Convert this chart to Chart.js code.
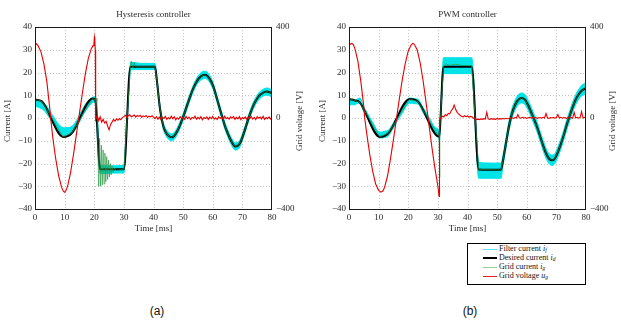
<!DOCTYPE html>
<html>
<head>
<meta charset="utf-8">
<script src="https://cdn.jsdelivr.net/npm/chart.js@4"></script>
<style>
  body { margin: 0; background: #fff; width: 621px; height: 323px; overflow: hidden; position: relative; font-family: "Liberation Serif", "DejaVu Serif", serif; }
  canvas { position: absolute; top: 0; }
  #hyst { left: 0; }
  #pwm { left: 310px; }
  .legend { position: absolute; left: 467px; top: 243px; width: 117px; height: 40px; border: 1px solid #000; font-size: 8px; color: #111; opacity: 0.99; -webkit-font-smoothing: antialiased; }
  .row { position: absolute; left: 0; width: 117px; height: 9px; }
  .sw { position: absolute; left: 15px; width: 14px; top: 4px; }
  .txt { position: absolute; left: 31px; top: -1px; line-height: 10px; white-space: nowrap; }
  .txt sub { font-size: 5.5px; vertical-align: -1px; font-style: italic; }
  .cap { position: absolute; top: 304px; width: 30px; text-align: center; font: 12px "Liberation Sans", Arial, sans-serif; color: #111; opacity: 0.99; }
</style>
</head>
<body>
<canvas id="hyst" width="310" height="240"></canvas>
<canvas id="pwm" width="311" height="240"></canvas>

<div class="legend">
  <div class="row" style="top:1px"><div class="sw" style="border-top:1px solid rgb(90,230,235)"></div><div class="txt">Filter current <i>i</i><sub>f</sub></div></div>
  <div class="row" style="top:10px"><div class="sw" style="border-top:2px solid #000;top:3px"></div><div class="txt">Desired current <i>i</i><sub>d</sub></div></div>
  <div class="row" style="top:19px"><div class="sw" style="border-top:1px solid rgb(150,205,150)"></div><div class="txt">Grid current <i>i</i><sub>g</sub></div></div>
  <div class="row" style="top:28px"><div class="sw" style="border-top:1px solid rgb(225,30,30)"></div><div class="txt">Grid voltage <i>u</i><sub>g</sub></div></div>
</div>
<div class="cap" style="left:142px">(a)</div>
<div class="cap" style="left:455px">(b)</div>

<script>
// ---------- Axis ticks ----------
const timeTicks = [0, 10, 20, 30, 40, 50, 60, 70, 80];          // ms
const currentTicks = [-40, -30, -20, -10, 0, 10, 20, 30, 40];   // A
const voltageTicks = [-400, 0, 400];                            // V

// ---------- Hysteresis controller ----------
// Sinusoidal reference after the +22.5 A step (shared time base)
const hystSineT = [41.1, 42.2, 43.3, 44.4, 45.3, 46.1, 47, 47.8, 49, 50.1, 51.2, 52.4, 53.5, 54.7, 56, 57.4, 58.8, 60.2, 61.3, 62.4, 63.3, 64.1, 65, 65.8, 66.7, 67.6, 68.4, 69.3, 70.4, 71.5, 72.6, 73.8, 75, 76, 77.2, 78.3, 79.2, 80];
const hystSineI = [17, 4, -3.5, -6.8, -8, -8.5, -7.8, -6.3, -3, 0.8, 5, 9.5, 13.2, 16.3, 18.3, 19, 17.5, 13.8, 9, 4, 0, -3.5, -6.5, -9, -11.2, -12.5, -12.3, -10.8, -7, -2.5, 1.8, 5.8, 8.6, 10.2, 11.3, 11.6, 11.3, 10.8];

// Desired current i_d
const hystDesiredT = [0, 1, 2.3, 9.5, 12.3, 19.5, 20.3, 22, 30, 32.2, 40.5].concat(hystSineT);
const hystDesiredI = [8, 7.9, 7.4, -8.3, -6.8, 8.6, 8, -22.5, -22.5, 22.5, 22.5].concat(hystSineI);

// Grid current i_g (oscillation after the voltage collapse)
const hystGridT = [0, 1, 2.3, 9.5, 12.3, 19.5, 20.3, 20.6, 20.9, 21.2, 21.5, 21.8, 22.1, 22.4, 22.7, 23, 23.3, 23.6, 23.9, 24.2, 24.5, 24.8, 25.1, 25.4, 25.7, 26, 26.4, 26.8, 27.3, 30, 32.2, 32.5, 33, 33.5, 34, 40.5].concat(hystSineT);
const hystGridI = [8, 7.9, 7.4, -8.3, -6.8, 8.6, 8, 8.7, 7.5, -10, -30, -9, -30, -12, -29.5, -14, -29, -15.5, -28, -17, -27, -18.5, -26, -20, -25, -21, -24, -22, -23, -22.5, 22.5, 25, 22, 24.5, 22.5, 22.5].concat(hystSineI);

// Filter current i_f: ripple band (upper / lower edge)
const hystFilterT = [0, 1, 2, 3, 4, 5, 6, 7, 8, 9, 10, 11, 12, 13, 14, 15, 16, 17, 18, 19, 20, 20.5, 21.2, 22, 26, 30, 30.8, 31.5, 32.3, 36, 40.5].concat(hystSineT);
const hystFilterHi = [7.8, 7.6, 7.2, 6.6, 5.2, 3.2, 1, -1, -2.8, -4, -4.3, -4.2, -4, -3, -1, 1.3, 3.8, 6, 7.6, 8.8, 9.3, 8.5, -2, -20.8, -21, -20.8, -4, 10, 24.5, 24, 24,
  18.5, 5.5, -2, -5.3, -6.5, -7, -6.3, -4.8, -1.5, 2.3, 6.5, 11, 14.7, 17.8, 19.9, 20.6, 19.1, 15.3, 10.5, 5.5, 1.5, -2, -5, -7.5, -9.6, -10.9, -10.7, -9.3, -5.5, -1, 3.3, 7.3, 10.1, 11.7, 12.8, 13.2, 12.9, 12.4];
const hystFilterLo = [5, 4.8, 4.2, 3.4, 1.8, -0.3, -2.5, -4.5, -6.2, -7.4, -7.8, -7.8, -7.5, -6.3, -4.2, -1.8, 0.8, 3, 4.8, 6.3, 7, 6.5, -12, -24.5, -24.2, -24.2, -8, 6.5, 21.2, 21.3, 21.3,
  15.5, 2.5, -5, -8.3, -9.6, -10.1, -9.4, -7.8, -4.5, -0.7, 3.5, 8, 11.7, 14.8, 16.7, 17.4, 15.9, 12.3, 7.5, 2.5, -1.5, -5, -8, -10.5, -12.8, -14.1, -13.9, -12.3, -8.5, -4, 0.3, 4.3, 7.1, 8.7, 9.8, 10, 9.7, 9.2];

// Grid voltage u_g before the fault
const hystVoltT = [0, 0.5, 1, 2, 3, 4, 5, 5.3, 6, 7, 8, 9, 9.6, 10, 10.5, 11, 12, 13, 14, 15, 16, 17, 18, 19, 19.6, 19.9, 20.05, 20.2, 20.35, 20.45];
const hystVoltV = [322, 326, 318, 292, 238, 160, 40, 0, -85, -180, -255, -305, -323, -326, -318, -300, -240, -160, -70, 20, 110, 195, 262, 305, 318, 330, 355, 340, 300, 0];
// Residual grid voltage, sampled every 0.5 ms from 20.5 ms
const hystVoltNoiseStart = 20.5;
const hystVoltNoise = [
  -8, 10, -12, 5, -18, -6, -22, -15, -35, -52, -28, -18, -6, -14, -4, -10, -2, -7, 3,
  6, 12, 3, 10, 14, 5, 9, 13, 4, 11, 7, 12, 3, 9, 6, 11, 2, 8, 5, 10, 4,
  -3, 6, -5, 4, -7, 3, -2, 7, -6, 2, -4, 8, -3, 5, -8, 1, -5, 6, -2, 3,
  -6, 7, -3, 4, -7, 2, -1, 8, -5, 3, -4, 6, -8, 2, -2, 5, -6, 4, -3, 7,
  -5, 1, -7, 6, -2, 4, -6, 8, -3, 2, -5, 5, -1, 7, -6, 3, -4, 6, -7, 2,
  -3, 5, -6, 4, -2, 7, -5, 3, -7, 6, -1, 4, -4, 8, -6, 2, -3, 5, -5, 3
];

// ---------- PWM controller ----------
const pwmSineT = [52, 53, 54, 55, 56, 57, 58.2, 59.3, 60.5, 61.5, 62.3, 63.5, 64.5, 65.5, 66.5, 67.5, 68.6, 69.5, 70.5, 71.5, 72.5, 73.5, 74.5, 75.5, 76.5, 77.5, 78.5, 79.5, 80];
const pwmSineI = [-18.5, -11, -3.5, 2, 5.5, 7.8, 8.8, 8.2, 5.5, 2.5, 0, -4, -8, -12, -15.5, -17.8, -18.6, -17.8, -15, -11.5, -7.5, -3, 1, 4.8, 8, 10.3, 12, 12.8, 13];

const pwmDesiredT = [0, 1, 2, 3.5, 10.4, 13.2, 20.5, 23.3, 30.4, 31.9, 41.4, 43.8, 51.3].concat(pwmSineT);
const pwmDesiredI = [8.3, 8.1, 7.7, 7, -8.3, -6.8, 8.4, 7.2, -8.2, 22.5, 22.5, -22.6, -22.8].concat(pwmSineI);

const pwmGridT = [0, 1, 2, 3.5, 10.4, 13.2, 20.5, 23.3, 30.4, 30.55, 30.7, 31.9, 32.6, 34, 36, 38, 41.4, 43.8, 51.3].concat(pwmSineT);
const pwmGridI = [8.3, 8.1, 7.7, 7, -8.3, -6.8, 8.4, 7.2, -8.2, -26, -5, 22.5, 23.8, 23.2, 23.6, 23.1, 23, -22.6, -22.8].concat(pwmSineI);

const pwmFilterT = [0, 2, 3, 3.8, 4.6, 6, 8, 10, 11, 12, 13.2, 14, 16, 18, 20, 21, 22, 23.3, 25, 27, 29, 30.2, 30.5, 31, 31.9, 36, 41.4, 43.8, 47, 51.3].concat(pwmSineT);
const pwmFilterHi = [7.8, 7.8, 8.5, 8.8, 6, 2.6, -1.9, -6, -6.2, -5.8, -5.5, -4.2, 0.2, 4.5, 8.4, 8.8, 8.5, 8.2, 4.6, 0.3, -4.1, -5, -6, 6, 26.5, 26.5, 26.5, -19.5, -19.8, -19.8,
  -16, -8.8, -1.3, 4.2, 7.7, 10, 11, 10.4, 7.7, 4.7, 2.2, -1.8, -5.8, -9.8, -13.3, -15.6, -16.3, -15.6, -12.8, -9.3, -5.3, -0.8, 3.2, 7, 10.2, 12.5, 14.3, 15.2, 15.5];
const pwmFilterLo = [5.8, 5.8, 6.5, 6.5, 3.8, 0.4, -4.1, -8.5, -8.8, -8.6, -8, -6.5, -2, 2.2, 6.2, 6.5, 6.3, 6.1, 2.4, -1.9, -6.3, -8.5, -10, 1, 19.5, 19.5, 19.5, -26.5, -26.5, -26.5,
  -21, -13.2, -5.7, -0.2, 3.3, 5.6, 6.6, 6, 3.3, 0.3, -2.2, -6.2, -10.2, -14.2, -17.7, -20, -20.9, -20, -17.2, -13.7, -9.7, -5.2, -1.2, 2.6, 5.8, 8.1, 9.7, 10.4, 10.5];

const pwmVoltT = [0, 0.5, 1, 1.5, 2, 3, 4, 5, 5.3, 6, 7, 8, 9, 10, 10.8, 11.5, 12, 13, 14, 15, 16, 17, 18, 19, 20, 21, 21.5, 22, 23, 24, 25, 26, 27, 28, 29, 30, 30.4, 30.55];
const pwmVoltV = [318, 325, 328, 322, 305, 250, 160, 50, 0, -70, -160, -235, -290, -318, -326, -320, -305, -255, -180, -95, -5, 85, 170, 240, 295, 322, 328, 325, 300, 245, 165, 70, -30, -130, -220, -300, -345, -10];
// Sampled every 0.5 ms from 31 ms
const pwmVoltNoiseStart = 31;
const pwmVoltNoise = [
  2, 8, 4, 15, 10, 20, 18, 32, 40, 57, 38, 25, 18, 12,
  8, 5, 10, 6, 9, 4, 7, 5,
  0, -4, -6, -5, -7, -4, -6, -3, -5, 25, -4, -6, -3, -5, -4, -6, -2, -5, -3, -4, -2, -4, -1, -3, -2, 0,
  1, -2, 2, 0, 15, 1, -1, 3, 0, 2, -2, 1, 3, -1, 2, 0, 3, -2, 1, 2, -1, 3, 0, 20, 1,
  -2, 2, 0, 3, -1, 2, 15, 0, 3, -1, 2, 1, -2, 3, 0, 2, -1, 25, 1, 3, -1, 2, 28, 0, 3, 1
];
const sampleStep = 0.5;

// ---------- helpers ----------
const pts = (ts, vs) => ts.map((t, i) => ({ x: t, y: vs[i] }));
const sampled = (start, vs) => vs.map((v, i) => ({ x: start + i * sampleStep, y: v }));
const minus = v => (v < 0 ? '\u2212' + Math.abs(v) : String(v));

const SERIF = '"Liberation Serif", "DejaVu Serif", serif';
const CYAN = 'rgb(0,228,232)';
const RED = 'rgb(232,0,0)';

// Dotted grid behind the curves, placed through the chart's own scales
const dottedGrid = {
  id: 'dottedGrid',
  beforeDatasetsDraw(chart) {
    const { ctx, chartArea: a, scales } = chart;
    ctx.save();
    ctx.strokeStyle = '#b4b4b4';
    ctx.lineWidth = 0.8;
    ctx.setLineDash([1, 2]);
    timeTicks.slice(1, -1).forEach(v => {
      const x = Math.round(scales.x.getPixelForValue(v)) + 0.5;
      ctx.beginPath(); ctx.moveTo(x, a.top); ctx.lineTo(x, a.bottom); ctx.stroke();
    });
    currentTicks.slice(1, -1).forEach(v => {
      const y = Math.round(scales.y.getPixelForValue(v)) + 0.5;
      ctx.beginPath(); ctx.moveTo(a.left, y); ctx.lineTo(a.right, y); ctx.stroke();
    });
    ctx.restore();
  }
};

// Frame, panel title and axis titles
const panelText = {
  id: 'panelText',
  afterDraw(chart, args, o) {
    const { ctx, chartArea: a } = chart;
    ctx.save();
    ctx.strokeStyle = '#1a1a1a';
    ctx.lineWidth = 1;
    ctx.strokeRect(Math.round(a.left) + 0.5, Math.round(a.top) + 0.5, Math.round(a.right - a.left) - 1, Math.round(a.bottom - a.top));
    ctx.fillStyle = '#2a2a2a';
    ctx.font = '9px ' + SERIF;
    ctx.textAlign = 'center';
    ctx.textBaseline = 'middle';
    const cx = (a.left + a.right) / 2;
    ctx.fillText(o.title, cx, 15);
    ctx.fillText('Time [ms]', cx, 229);
    const cy = (a.top + a.bottom) / 2 + 3;
    [[o.leftX, 'Current [A]'], [o.rightX, 'Grid voltage [V]']].forEach(([x, s]) => {
      ctx.save();
      ctx.translate(x, cy);
      ctx.rotate(-Math.PI / 2);
      ctx.fillText(s, 0, 0);
      ctx.restore();
    });
    ctx.restore();
  }
};

function makePanel(id, p) {
  const datasets = [
    { data: pts(p.filterT, p.filterHi), borderColor: CYAN, borderWidth: 1, fill: false, order: 4, cubicInterpolationMode: 'monotone' },
    { data: pts(p.filterT, p.filterLo), borderColor: CYAN, borderWidth: 1, backgroundColor: CYAN, fill: '-1', order: 3, cubicInterpolationMode: 'monotone' },
    { data: pts(p.desiredT, p.desiredI), borderColor: '#000', borderWidth: 2, order: 2, cubicInterpolationMode: 'monotone' },
    { data: pts(p.gridT, p.gridI), borderColor: 'rgba(45,150,70,0.75)', borderWidth: 0.9, order: 1 },
    { data: pts(p.voltT, p.voltV).concat(sampled(p.noiseStart, p.noise)), borderColor: RED, borderWidth: 1.1, yAxisID: 'yv', order: 0 }
  ];
  datasets.forEach(d => { d.pointRadius = 0; d.parsing = false; });

  const tickFont = { family: SERIF, size: 9 };
  return new Chart(document.getElementById(id), {
    type: 'line',
    data: { datasets },
    options: {
      responsive: false,
      animation: false,
      events: [],
      layout: { padding: { top: 27, left: 0, right: 0, bottom: 0 } },
      plugins: { legend: { display: false }, tooltip: { enabled: false }, panelText: p.text },
      scales: {
        x: {
          type: 'linear', min: 0, max: 80,
          afterBuildTicks: s => { s.ticks = timeTicks.map(v => ({ value: v })); },
          afterFit: s => { s.height = 31; },
          ticks: { font: tickFont, color: '#2a2a2a', padding: 3, maxRotation: 0, callback: minus },
          grid: { display: false, drawTicks: false },
          border: { display: false }
        },
        y: {
          position: 'left', min: -40, max: 40,
          afterBuildTicks: s => { s.ticks = currentTicks.map(v => ({ value: v })); },
          afterFit: s => { s.width = p.leftW; },
          ticks: { font: tickFont, color: '#2a2a2a', padding: 3, callback: minus },
          grid: { display: false, drawTicks: false },
          border: { display: false }
        },
        yv: {
          position: 'right', min: -400, max: 400,
          afterBuildTicks: s => { s.ticks = voltageTicks.map(v => ({ value: v })); },
          afterFit: s => { s.width = p.rightW; },
          ticks: { font: tickFont, color: '#2a2a2a', padding: 4, callback: minus },
          grid: { display: false, drawTicks: false },
          border: { display: false }
        }
      }
    },
    plugins: [dottedGrid, panelText]
  });
}

makePanel('hyst', {
  filterT: hystFilterT, filterHi: hystFilterHi, filterLo: hystFilterLo,
  desiredT: hystDesiredT, desiredI: hystDesiredI,
  gridT: hystGridT, gridI: hystGridI,
  voltT: hystVoltT, voltV: hystVoltV, noiseStart: hystVoltNoiseStart, noise: hystVoltNoise,
  leftW: 35, rightW: 38,
  text: { title: 'Hysteresis controller', leftX: 8, rightX: 300 }
});

makePanel('pwm', {
  filterT: pwmFilterT, filterHi: pwmFilterHi, filterLo: pwmFilterLo,
  desiredT: pwmDesiredT, desiredI: pwmDesiredI,
  gridT: pwmGridT, gridI: pwmGridI,
  voltT: pwmVoltT, voltV: pwmVoltV, noiseStart: pwmVoltNoiseStart, noise: pwmVoltNoise,
  leftW: 39, rightW: 35,
  text: { title: 'PWM controller', leftX: 13, rightX: 303 }
});
</script>
</body>
</html>
